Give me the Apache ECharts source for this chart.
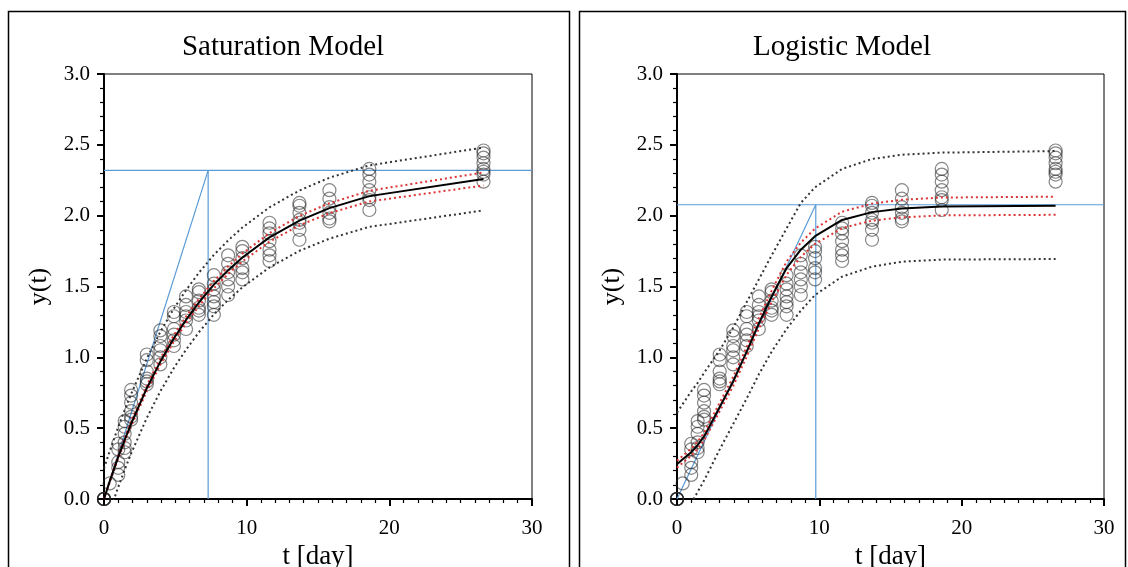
<!DOCTYPE html>
<html><head><meta charset="utf-8">
<script src="https://cdn.jsdelivr.net/npm/echarts@6/dist/echarts.min.js"></script>
<style>html,body{margin:0;padding:0;background:#fff}#c{width:1128px;height:567px}</style>
</head><body><div id="c"></div>
<script>
// sampling days (shared by both panels)
const days = [0, 0.4, 1.0, 1.45, 1.9, 3.0, 3.95, 4.9, 5.75, 6.65, 7.7, 8.7, 9.7, 11.6, 13.7, 15.8, 18.6, 26.6];
// observed replicates for each day
const replicates = [
  [0, 0, 0, 0, 0, 0],
  [0.11],
  [0.17, 0.22, 0.26, 0.35, 0.39],
  [0.33, 0.36, 0.40, 0.46, 0.51, 0.55],
  [0.56, 0.58, 0.62, 0.68, 0.73, 0.77],
  [0.81, 0.83, 0.85, 0.90, 0.98, 1.02],
  [0.95, 1.00, 1.05, 1.08, 1.15, 1.19],
  [1.08, 1.12, 1.16, 1.20, 1.29, 1.32],
  [1.20, 1.26, 1.29, 1.32, 1.37, 1.43],
  [1.30, 1.33, 1.35, 1.40, 1.46, 1.48],
  [1.30, 1.36, 1.39, 1.43, 1.48, 1.52, 1.58],
  [1.44, 1.50, 1.55, 1.60, 1.66, 1.72],
  [1.55, 1.60, 1.63, 1.70, 1.75, 1.78],
  [1.68, 1.72, 1.76, 1.82, 1.875, 1.91, 1.95],
  [1.83, 1.90, 1.95, 1.97, 2.02, 2.07, 2.09],
  [1.96, 1.98, 2.02, 2.06, 2.12, 2.18],
  [2.04, 2.11, 2.13, 2.18, 2.24, 2.29, 2.33],
  [2.24, 2.29, 2.31, 2.33, 2.37, 2.41, 2.44, 2.46]
];

// Saturation model
const satFit    = [0, 0.124, 0.297, 0.418, 0.531, 0.782, 0.970, 1.135, 1.264, 1.387, 1.513, 1.615, 1.705, 1.847, 1.965, 2.053, 2.138, 2.259];
const satConfHi = [0, 0.130, 0.309, 0.433, 0.548, 0.802, 0.992, 1.158, 1.288, 1.412, 1.539, 1.642, 1.733, 1.877, 1.998, 2.088, 2.176, 2.305];
const satConfLo = [0, 0.118, 0.285, 0.403, 0.514, 0.762, 0.948, 1.112, 1.240, 1.362, 1.487, 1.588, 1.677, 1.817, 1.932, 2.018, 2.100, 2.213];
const satPredHi = [0.215, 0.337, 0.509, 0.629, 0.741, 0.992, 1.180, 1.345, 1.474, 1.597, 1.723, 1.825, 1.916, 2.059, 2.178, 2.268, 2.355, 2.481];
const satPredLo = [-0.215, -0.089, 0.085, 0.207, 0.321, 0.572, 0.760, 0.925, 1.054, 1.177, 1.303, 1.405, 1.494, 1.635, 1.752, 1.838, 1.921, 2.037];
const satAsymptote = 2.32;
const satTimeConst = 7.3;

// Logistic model
const logFit    = [0.245, 0.28, 0.33, 0.38, 0.44, 0.65, 0.83, 1.04, 1.24, 1.43, 1.63, 1.76, 1.855, 1.97, 2.025, 2.05, 2.065, 2.07];
const logConfHi = [0.270, 0.305, 0.355, 0.406, 0.467, 0.680, 0.862, 1.074, 1.277, 1.471, 1.676, 1.810, 1.909, 2.028, 2.085, 2.112, 2.128, 2.134];
const logConfLo = [0.220, 0.255, 0.305, 0.354, 0.413, 0.620, 0.798, 1.006, 1.203, 1.389, 1.584, 1.710, 1.801, 1.912, 1.965, 1.988, 2.002, 2.006];
const logPredHi = [0.61, 0.67, 0.76, 0.82, 0.89, 1.05, 1.21, 1.39, 1.55, 1.72, 1.91, 2.09, 2.20, 2.33, 2.40, 2.43, 2.445, 2.456];
const logPredLo = [-0.22, -0.14, -0.03, 0.05, 0.13, 0.35, 0.53, 0.71, 0.88, 1.04, 1.20, 1.33, 1.44, 1.57, 1.64, 1.675, 1.69, 1.694];
const logAsymptote = 2.077;
const logTime = 9.75;

const xMax = 30, yMax = 3;
const FONT = '"Liberation Serif", "Times New Roman", serif';

const zip = arr => days.map((d, i) => [d, arr[i]]);
const scatterData = days.flatMap((d, i) => replicates[i].map(v => [d, v]));

function axisX(idx) {
  return {
    gridIndex: idx, type: 'value', min: 0, max: xMax, interval: 10,
    name: 't [day]', nameLocation: 'middle', nameGap: 39,
    nameTextStyle: { fontFamily: FONT, fontSize: 27, color: '#000' },
    axisLine: { show: true, onZero: false, lineStyle: { color: '#000', width: 2 } },
    axisTick: { show: true, length: 7, lineStyle: { color: '#000', width: 2 } },
    minorTick: { show: true, splitNumber: 10, length: 4, lineStyle: { color: '#000', width: 1.2 } },
    splitLine: { show: false },
    axisLabel: { fontFamily: FONT, fontSize: 21, color: '#000', margin: 19 }
  };
}
function axisY(idx) {
  return {
    gridIndex: idx, type: 'value', min: 0, max: yMax, interval: 0.5,
    name: 'y(t)', nameLocation: 'middle', nameGap: 52, nameRotate: 90,
    nameTextStyle: { fontFamily: FONT, fontSize: 26, color: '#000' },
    axisLine: { show: true, onZero: false, lineStyle: { color: '#000', width: 2 } },
    axisTick: { show: true, length: 7, lineStyle: { color: '#000', width: 2 } },
    minorTick: { show: true, splitNumber: 5, length: 4, lineStyle: { color: '#000', width: 1.2 } },
    splitLine: { show: false },
    axisLabel: { fontFamily: FONT, fontSize: 21, color: '#000', margin: 14, formatter: v => v.toFixed(1) }
  };
}

function panelSeries(idx, fit, cHi, cLo, pHi, pLo, A, T) {
  const base = { xAxisIndex: idx, yAxisIndex: idx, type: 'line', symbol: 'none', silent: true, animation: false };
  const blue = { color: '#5b9bd5', width: 1.2 };
  const redDot = { color: '#dd3333', width: 2, type: [2, 3] };
  const blkDot = { color: '#333', width: 2, type: [2, 3] };
  return [
    Object.assign({}, base, { data: [[0, A], [xMax, A]], lineStyle: blue, z: 1 }),
    Object.assign({}, base, { data: [[T, 0], [T, A]], lineStyle: blue, z: 1 }),
    Object.assign({}, base, { data: [[0, 0], [T, A]], lineStyle: blue, z: 1 }),
    { xAxisIndex: idx, yAxisIndex: idx, type: 'scatter', data: scatterData, symbol: 'circle', symbolSize: 13,
      itemStyle: { color: 'rgba(0,0,0,0)', borderColor: 'rgba(40,40,40,0.7)', borderWidth: 1.2 }, z: 2, animation: false, silent: true },
    Object.assign({}, base, { data: zip(pHi), lineStyle: blkDot, z: 3 }),
    Object.assign({}, base, { data: zip(pLo), lineStyle: blkDot, z: 3 }),
    Object.assign({}, base, { data: zip(cHi), lineStyle: redDot, z: 3 }),
    Object.assign({}, base, { data: zip(cLo), lineStyle: redDot, z: 3 }),
    Object.assign({}, base, { data: zip(fit), lineStyle: { color: '#000', width: 2 }, z: 4 })
  ];
}

const chart = echarts.init(document.getElementById('c'), null, { renderer: 'canvas' });
chart.setOption({
  backgroundColor: '#fff',
  animation: false,
  grid: [
    { left: 104, top: 74, width: 428, height: 425, show: true, borderColor: '#000', borderWidth: 1, backgroundColor: 'transparent', containLabel: false, outerBoundsMode: 'none' },
    { left: 677, top: 74, width: 427, height: 425, show: true, borderColor: '#000', borderWidth: 1, backgroundColor: 'transparent', containLabel: false, outerBoundsMode: 'none' }
  ],
  xAxis: [axisX(0), axisX(1)],
  yAxis: [axisY(0), axisY(1)],
  graphic: [
    { type: 'rect', shape: { x: 8.5, y: 11.5, width: 561, height: 620 }, style: { fill: 'none', stroke: '#000', lineWidth: 1.5 }, silent: true, z: -10 },
    { type: 'rect', shape: { x: 579.5, y: 11.5, width: 546, height: 620 }, style: { fill: 'none', stroke: '#000', lineWidth: 1.5 }, silent: true, z: -10 },
    { type: 'text', x: 283, y: 47, style: { text: 'Saturation Model', font: '29px ' + FONT, fill: '#000', textAlign: 'center', textVerticalAlign: 'middle', align: 'center', verticalAlign: 'middle' }, silent: true },
    { type: 'text', x: 842, y: 47, style: { text: 'Logistic Model', font: '29px ' + FONT, fill: '#000', textAlign: 'center', textVerticalAlign: 'middle', align: 'center', verticalAlign: 'middle' }, silent: true }
  ],
  series: [].concat(
    panelSeries(0, satFit, satConfHi, satConfLo, satPredHi, satPredLo, satAsymptote, satTimeConst),
    panelSeries(1, logFit, logConfHi, logConfLo, logPredHi, logPredLo, logAsymptote, logTime)
  )
});
</script>
</body></html>
